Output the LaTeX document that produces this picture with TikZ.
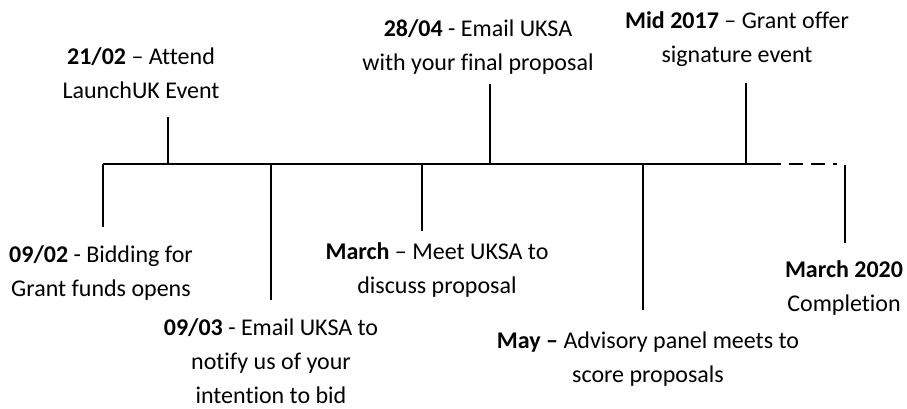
\documentclass[tikz,border=0pt]{standalone}
\usepackage{fontspec}
\setmainfont{Carlito}[Ligatures={NoCommon}]
\begin{document}
\begin{tikzpicture}[x=1pt, y=-1pt, line width=1.8pt, every node/.style={align=center, inner sep=0pt, font=\fontsize{24}{34}\selectfont}]
            \useasboundingbox (0,0) rectangle (907,408);
            % Timeline
            \coordinate (start) at (103,164);
            \coordinate (solidend) at (781,164);
            \coordinate (stop) at (837,164);
            \draw (start) -- (solidend);
            \draw[dash pattern=on 14pt off 8pt, dash phase=14pt] (solidend) -- (stop);
            % Nodes
            \node (feb09) at (101,273) {\textbf{09/02} - Bidding for\\Grant funds opens};
            \node (feb21) at (141,73) {\textbf{21/02} -- Attend\\LaunchUK Event};
            \node (mar09) at (271,361) {\textbf{09/03} - Email UKSA to\\notify us of your\\intention to bid};
            \node (march) at (437,270) {\textbf{March} -- Meet UKSA to\\discuss proposal};
            \node (apr28) at (478,47) {\textbf{28/04} - Email UKSA\\with your final proposal};
            \node (may) at (648,359) {\textbf{May --} Advisory panel meets to\\score proposals};
            \node (mid2017) at (737,39) {\textbf{Mid 2017} -- Grant offer\\signature event};
            \node (mar2020) at (844,288) {\textbf{March 2020}\\Completion};
            % Ticks
            \draw (start) -- (103,227) coordinate (feb09end);
            \draw (168,164) coordinate (feb21pt) -- (168,117);
            \draw (271,164) coordinate (mar09pt) -- (271,300);
            \draw (422,164) coordinate (marchpt) -- (422,231);
            \draw (490,164) coordinate (apr28pt) -- (490,84);
            \draw (643,164) coordinate (maypt) -- (643,310);
            \draw (746,164) coordinate (mid2017pt) -- (746,83);
            \draw (845,165) coordinate (mar2020pt) -- (845,243);
\end{tikzpicture}
\end{document}
